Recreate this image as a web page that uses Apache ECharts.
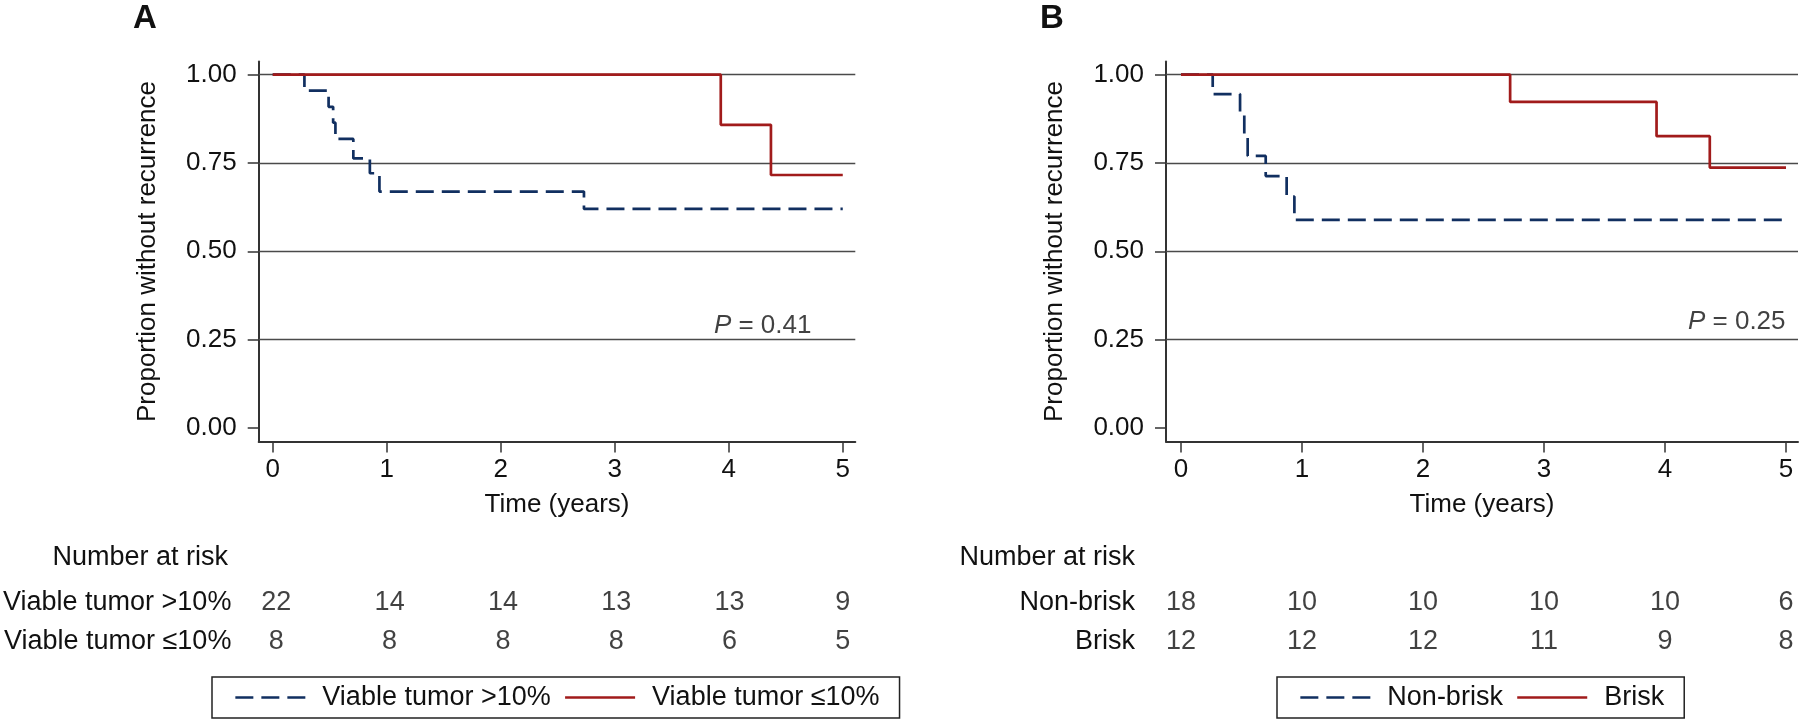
<!DOCTYPE html>
<html><head><meta charset="utf-8">
<script src="https://cdn.jsdelivr.net/npm/echarts@6/dist/echarts.min.js"></script>
<style>html,body{margin:0;padding:0;background:#fff}#c{width:1800px;height:719px}</style>
</head><body><div id="c"></div>
<script>
// ---- data ----
const xTicks = [0, 1, 2, 3, 4, 5];
const yTicks = [0, 0.25, 0.5, 0.75, 1];
const gridLevels = [0.25, 0.5, 0.75, 1];

const namesA = ['Viable tumor >10%', 'Viable tumor \u226410%'];
const namesB = ['Non-brisk', 'Brisk'];

const aHighTime = [0, 0.278, 0.49, 0.53, 0.55, 0.707, 0.852, 0.936, 2.73, 5];
const aHighSurv = [1, 0.955, 0.909, 0.864, 0.818, 0.763, 0.721, 0.669, 0.62, 0.62];
const aLowTime = [0, 3.93, 4.37, 5];
const aLowSurv = [1, 0.858, 0.716, 0.716];

const bNonTime = [0, 0.262, 0.488, 0.523, 0.551, 0.70, 0.873, 0.937, 5];
const bNonSurv = [1, 0.945, 0.885, 0.83, 0.77, 0.713, 0.655, 0.589, 0.589];
const bBriskTime = [0, 2.72, 3.93, 4.37, 5];
const bBriskSurv = [1, 0.923, 0.826, 0.737, 0.737];

const riskTimes = [0, 1, 2, 3, 4, 5];
const aHighRisk = [22, 14, 14, 13, 13, 9];
const aLowRisk = [8, 8, 8, 8, 6, 5];
const bNonRisk = [18, 10, 10, 10, 10, 6];
const bBriskRisk = [12, 12, 12, 11, 9, 8];

const pA = { x: 4.73, y: 0.288, value: '0.41' };
const pB = { x: 5, y: 0.30, value: '0.25' };

// ---- style ----
const FONT = 'Liberation Sans, Arial, Helvetica, sans-serif';
const TXT = '#111';
const RED = '#a11b1b';
const NAVY = '#112f60';
const FS = 26;
const FS2 = 27;

const zip = (t, v) => t.map((x, i) => [x, v[i]]);

function mainX(idx, min, max) {
  return {
    gridIndex: idx, type: 'value', min: min, max: max,
    axisLine: { onZero: false, lineStyle: { color: '#333', width: 2 } },
    axisTick: { customValues: xTicks, length: 11, lineStyle: { color: '#333', width: 1.5 } },
    axisLabel: { customValues: xTicks, margin: 15, fontSize: FS, color: TXT, fontFamily: FONT },
    splitLine: { show: false },
    name: 'Time (years)', nameLocation: 'middle', nameGap: 50,
    nameTextStyle: { fontSize: FS, color: TXT, fontFamily: FONT }
  };
}
function mainY(idx) {
  return {
    gridIndex: idx, type: 'value', min: -0.038, max: 1.037,
    axisLine: { onZero: false, lineStyle: { color: '#333', width: 2 } },
    axisTick: { customValues: yTicks, length: 11, lineStyle: { color: '#333', width: 1.5 } },
    axisLabel: { customValues: yTicks, margin: 22, fontSize: FS, color: TXT, fontFamily: FONT,
      formatter: v => Number(v).toFixed(2) },
    splitLine: { show: false },
    name: 'Proportion without recurrence', nameLocation: 'middle', nameGap: 98,
    nameTextStyle: { fontSize: FS, color: TXT, fontFamily: FONT }
  };
}
function riskX(idx, min, max) {
  return { gridIndex: idx, type: 'value', min: min, max: max, show: false };
}
function riskY(idx, names) {
  return {
    gridIndex: idx, type: 'category', data: names, inverse: true,
    axisLine: { show: false }, axisTick: { show: false }, splitLine: { show: false },
    axisLabel: { margin: 31, fontSize: FS2, color: TXT, fontFamily: FONT }
  };
}
function kmSeries(name, idx, t, v, color, dashed, withGrid) {
  const s = {
    name: name, type: 'line', step: 'end', xAxisIndex: idx, yAxisIndex: idx,
    data: zip(t, v), symbol: 'none', showSymbol: false, color: color, z: 3,
    lineStyle: { color: color, width: 2.7, type: dashed ? [18, 8] : 'solid', cap: 'butt' },
    animation: false, silent: true
  };
  if (withGrid) {
    s.markLine = {
      silent: true, symbol: 'none', z: 1, animation: false,
      label: { show: false },
      lineStyle: { color: '#4a4a4a', width: 1.3, type: 'solid' },
      emphasis: { disabled: true },
      data: gridLevels.map(g => ({ yAxis: g }))
    };
  }
  return s;
}
function riskSeries(idx, name, counts) {
  return {
    type: 'scatter', xAxisIndex: idx, yAxisIndex: idx, symbolSize: 1,
    itemStyle: { color: 'rgba(0,0,0,0)' }, silent: true, animation: false,
    data: riskTimes.map((t, i) => [t, name, counts[i]]),
    label: { show: true, position: 'inside', formatter: p => String(p.value[2]),
      fontSize: FS2, color: TXT, fontFamily: FONT }
  };
}
function pSeries(idx, p) {
  return {
    type: 'scatter', xAxisIndex: idx, yAxisIndex: idx, symbolSize: 1,
    itemStyle: { color: 'rgba(0,0,0,0)' }, silent: true, animation: false,
    data: [[p.x, p.y]],
    label: { show: true, position: 'left', distance: 0,
      formatter: '{i|P} = ' + p.value,
      fontSize: FS, color: TXT, fontFamily: FONT,
      rich: { i: { fontStyle: 'italic', fontSize: FS, color: TXT, fontFamily: FONT } } }
  };
}
function legend(names, left) {
  return {
    data: names, left: left, top: 677, orient: 'horizontal',
    itemWidth: 70, itemHeight: 26, itemGap: 13,
    padding: [7, 20, 7, 22],
    borderColor: '#222', borderWidth: 1.5, borderRadius: 0,
    lineStyle: { width: 2.7 },
    itemStyle: { color: 'rgba(0,0,0,0)', borderColor: 'rgba(0,0,0,0)', borderWidth: 0 },
    selectedMode: false,
    textStyle: { fontSize: FS2, color: TXT, fontFamily: FONT, padding: [0, 0, 0, 12] }
  };
}

const option = {
  backgroundColor: '#fff',
  animation: false,
  grid: [
    { left: 258.7, top: 61.6, width: 596.6, height: 379.8 },
    { left: 1166, top: 61.6, width: 632, height: 379.8 },
    { left: 258.7, top: 583.5, width: 596.6, height: 78 },
    { left: 1166, top: 583.5, width: 632, height: 78 }
  ],
  xAxis: [mainX(0, -0.123, 5.11), mainX(1, -0.124, 5.099), riskX(2, -0.123, 5.11), riskX(3, -0.124, 5.099)],
  yAxis: [mainY(0), mainY(1), riskY(2, namesA), riskY(3, namesB)],
  legend: [legend(namesA, 212), legend(namesB, 1277)],
  series: [
    kmSeries(namesA[0], 0, aHighTime, aHighSurv, NAVY, true, true),
    kmSeries(namesA[1], 0, aLowTime, aLowSurv, RED, false, false),
    kmSeries(namesB[0], 1, bNonTime, bNonSurv, NAVY, true, true),
    kmSeries(namesB[1], 1, bBriskTime, bBriskSurv, RED, false, false),
    pSeries(0, pA), pSeries(1, pB),
    riskSeries(2, namesA[0], aHighRisk), riskSeries(2, namesA[1], aLowRisk),
    riskSeries(3, namesB[0], bNonRisk), riskSeries(3, namesB[1], bBriskRisk)
  ],
  graphic: [
    { type: 'text', left: 133, top: 2, style: { text: 'A', font: 'bold 33px ' + FONT, fill: TXT } },
    { type: 'text', left: 1040, top: 2, style: { text: 'B', font: 'bold 33px ' + FONT, fill: TXT } },
    { type: 'text', x: 228, y: 558, style: { text: 'Number at risk', font: FS2 + 'px ' + FONT, fill: TXT, align: 'right', verticalAlign: 'middle' } },
    { type: 'text', x: 1135, y: 558, style: { text: 'Number at risk', font: FS2 + 'px ' + FONT, fill: TXT, align: 'right', verticalAlign: 'middle' } }
  ]
};
const chart = echarts.init(document.getElementById('c'), null, { renderer: 'canvas' });
chart.setOption(option);
</script>
</body></html>
